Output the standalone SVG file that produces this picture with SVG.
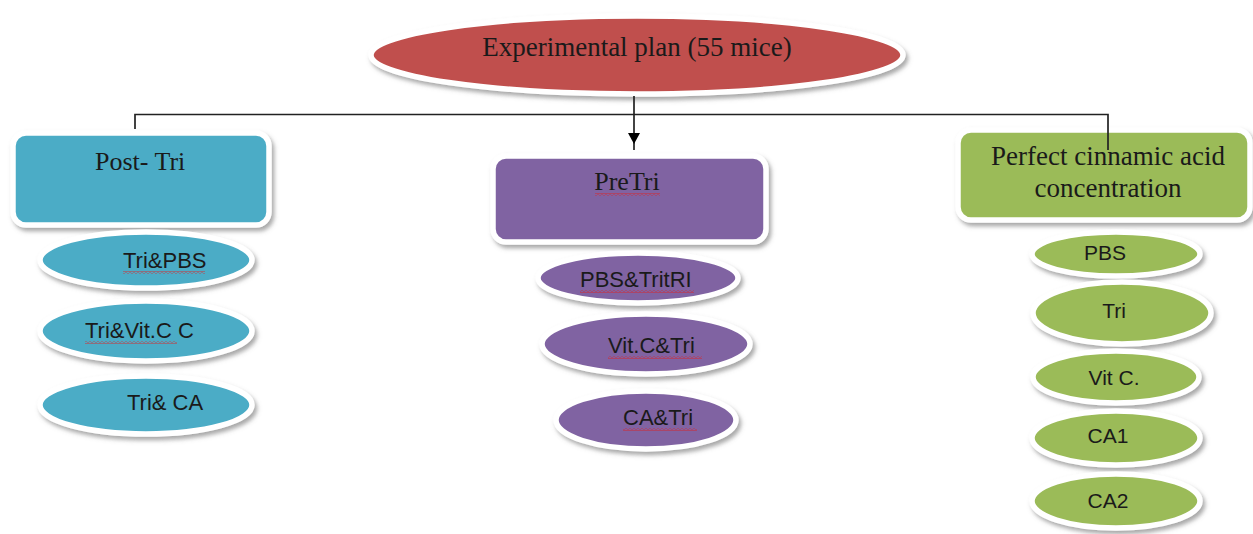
<svg xmlns="http://www.w3.org/2000/svg" width="1253" height="534" viewBox="0 0 1253 534">
<style>
.shape{stroke:#ffffff;stroke-width:5.5;filter:url(#sh)}
.blue{fill:#4BACC6}
.purple{fill:#8064A2}
.green{fill:#9BBB59}
.red{fill:#C0504D}
.serif{font-family:"Liberation Serif","Times New Roman",serif;font-size:27px;fill:#1a1a1a}
.sm{font-size:26px}
.sans{font-family:"Liberation Sans",Arial,sans-serif;font-size:22px;fill:#1a1a1a}
.gs{font-size:21px}
.mid{text-anchor:middle}
.conn{fill:none;stroke:#222;stroke-width:1.7}
.sq{fill:url(#squig)}
</style>
<defs>
<filter id="sh" x="-10%" y="-20%" width="125%" height="150%">
<feDropShadow dx="2.5" dy="3.5" stdDeviation="2" flood-color="#6e6e6e" flood-opacity="0.6"/>
</filter>
<marker id="arr" markerWidth="12" markerHeight="12" refX="10" refY="6" orient="auto" markerUnits="userSpaceOnUse">
<path d="M0,0 L11,6 L0,12 Z" fill="#000"/>
</marker>
<pattern id="squig" width="4" height="3" patternUnits="userSpaceOnUse">
<path d="M0,0.6 L2,2.4 L4,0.6" fill="none" stroke="#e02020" stroke-width="0.8"/>
</pattern>
</defs>

<g id="root">
<ellipse class="shape red" cx="637" cy="55" rx="266" ry="39"/>
<text class="serif mid" x="637" y="56">Experimental plan (55 mice)</text>
</g>

<g id="post-tri">
<rect class="shape blue" x="13" y="133" width="256" height="92" rx="13"/>
<text class="serif sm" x="95" y="170">Post- Tri</text>
</g>
<g id="tri-pbs">
<ellipse class="shape blue" cx="146" cy="260" rx="106" ry="28"/>
<text class="sans" x="123" y="268">Tri&amp;PBS</text>
<rect class="sq" x="123" y="271" width="82" height="3"/>
</g>
<g id="tri-vitc">
<ellipse class="shape blue" cx="146" cy="331" rx="106" ry="30"/>
<text class="sans" x="85" y="338">Tri&amp;Vit.C C</text>
<rect class="sq" x="85" y="341" width="92" height="3"/>
</g>
<g id="tri-ca">
<ellipse class="shape blue" cx="146" cy="405" rx="106" ry="29"/>
<text class="sans" x="127" y="410">Tri&amp; CA</text>
</g>

<g id="pretri">
<rect class="shape purple" x="493" y="156" width="273" height="86" rx="13"/>
<text class="serif sm mid" x="627" y="190">PreTri</text>
<rect class="sq" x="595" y="193" width="65" height="3"/>
</g>
<g id="pbs-trit">
<ellipse class="shape purple" cx="638" cy="278" rx="100" ry="25"/>
<text class="sans" x="580" y="287">PBS&amp;TritRI</text>
<rect class="sq" x="580" y="290" width="114" height="3"/>
</g>
<g id="vitc-tri">
<ellipse class="shape purple" cx="646" cy="344" rx="104" ry="30"/>
<text class="sans" x="608" y="353">Vit.C&amp;Tri</text>
<rect class="sq" x="608" y="356" width="94" height="3"/>
</g>
<g id="ca-tri">
<ellipse class="shape purple" cx="646" cy="420" rx="90" ry="29"/>
<text class="sans" x="623" y="425">CA&amp;Tri</text>
<rect class="sq" x="623" y="428" width="74" height="3"/>
</g>

<g id="perfect-ca">
<rect class="shape green" x="958" y="130" width="292" height="90" rx="13"/>
<text class="serif mid" x="1108" y="165">Perfect cinnamic acid</text>
<text class="serif mid" x="1108" y="197">concentration</text>
</g>
<g id="pbs">
<ellipse class="shape green" cx="1116" cy="254" rx="84" ry="22"/>
<text class="sans gs mid" x="1105" y="260">PBS</text>
</g>
<g id="tri">
<ellipse class="shape green" cx="1122" cy="313" rx="89" ry="31"/>
<text class="sans gs mid" x="1114" y="318">Tri</text>
</g>
<g id="vitc">
<ellipse class="shape green" cx="1116" cy="377" rx="83" ry="26"/>
<text class="sans gs mid" x="1114" y="385">Vit C.</text>
</g>
<g id="ca1">
<ellipse class="shape green" cx="1116" cy="438" rx="84" ry="27"/>
<text class="sans gs mid" x="1108" y="443">CA1</text>
</g>
<g id="ca2">
<ellipse class="shape green" cx="1116" cy="501" rx="84" ry="27"/>
<text class="sans gs mid" x="1108" y="508">CA2</text>
</g>

<g id="connectors">
<path class="conn" d="M135,129 V114.5 H1108 V150"/>
<path class="conn" d="M634,96 L634,143 L634,150" marker-mid="url(#arr)"/>
</g>
</svg>
